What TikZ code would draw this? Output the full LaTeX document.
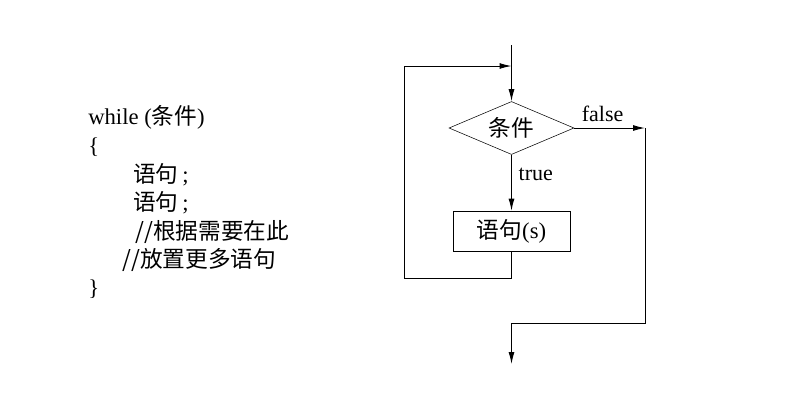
\documentclass[tikz,border=0pt]{standalone}
\usepackage{fontspec}
\setmainfont{Liberation Serif}
\newfontfamily\cjk{Noto Sans CJK SC}
\usetikzlibrary{shapes.geometric,arrows.meta}

\begin{document}
\begin{tikzpicture}[
    x=0.75pt, y=-0.75pt,
    code line/.style={anchor=base west, inner sep=0pt, font=\fontsize{17pt}{20pt}\selectfont},
    cond node/.style={diamond, draw=black, aspect=2.36, inner sep=0pt, minimum width=93.75pt, minimum height=39.75pt, font=\fontsize{17pt}{20pt}\selectfont},
    stmt node/.style={rectangle, draw=black, minimum width=87.75pt, minimum height=30pt, inner sep=0pt, font=\fontsize{17pt}{20pt}\selectfont},
    flow label/.style={inner sep=0pt, font=\fontsize{16.5pt}{19pt}\selectfont},
    flow edge/.style={draw=black, line width=0.75pt},
    flow arrow/.style={flow edge, -{Latex[length=9pt, width=4.5pt]}}
]
\useasboundingbox (0,0) rectangle (787,394);

% 左侧代码
\node[code line] (L1) at (88, 124) {while ({\cjk 条件})};
\node[code line] (L2) at (88, 153) {\{};
\node[code line] (L3) at (133, 182) {{\cjk 语句}\,;};
\node[code line] (L4) at (133, 210) {{\cjk 语句}\,;};
\node[code line] (L5) at (135, 239) {\cjk //根据需要在此};
\node[code line] (L6) at (122, 267) {\cjk //放置更多语句};
\node[code line] (L7) at (88, 295) {\}};

% 流程图
\node[cond node] (Cond) at (511.5, 128) {\cjk 条件};
\node[stmt node] (Stmt) at (511.5, 231) {{\cjk 语句}(s)};

\coordinate (Top)   at (511.5, 45);
\coordinate (Join)  at (511.5, 66);
\coordinate (BackL) at (404, 66);
\coordinate (BackB) at (404, 278);
\coordinate (StmtB) at (511.5, 278);
\coordinate (ExitR) at (645, 128);
\coordinate (ExitB) at (645, 323);
\coordinate (OutL)  at (511.5, 323);
\coordinate (OutE)  at (511.5, 364);

\draw[flow arrow] (Top) -- (Cond.north);
\draw[flow arrow] (Cond.south) -- node[flow label, right=5pt, pos=0.35] {true} (Stmt.north);
\draw[flow edge] (Stmt.south) -- (StmtB) -- (BackB) -- (BackL);
\draw[flow arrow] (BackL) -- (Join);
\draw[flow arrow] (Cond.east) -- node[flow label, above=4pt, pos=0.4] {false} (ExitR);
\draw[flow edge] (ExitR) -- (ExitB) -- (OutL);
\draw[flow arrow] (OutL) -- (OutE);

\end{tikzpicture}
\end{document}
